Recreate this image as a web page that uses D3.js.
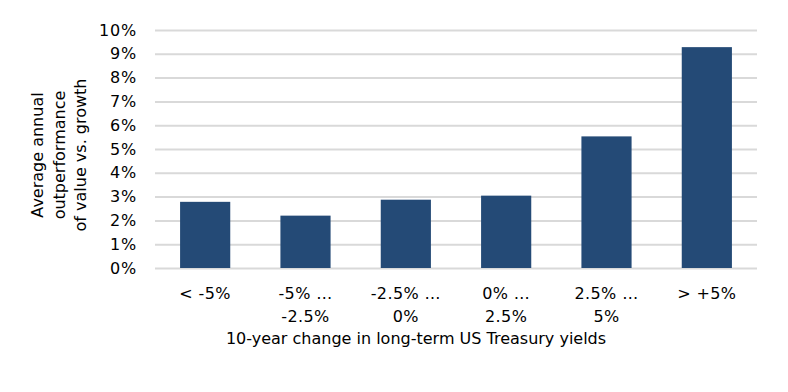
<!DOCTYPE html>
<html><head><meta charset="utf-8">
<script src="https://cdn.jsdelivr.net/npm/d3@7/dist/d3.min.js"></script>
<style>body{margin:0;background:#fff}svg{display:block}text{font-family:"DejaVu Sans",Verdana,sans-serif;fill:#000}</style>
</head><body>
<script>
const categories = [["< -5%"], ["-5% …", "-2.5%"], ["-2.5% …", "0%"], ["0% …", "2.5%"], ["2.5% …", "5%"], ["> +5%"]];
const values = [2.78, 2.2, 2.87, 3.04, 5.53, 9.28];
const yTicks = [0,1,2,3,4,5,6,7,8,9,10];
const xTitle = "10-year change in long-term US Treasury yields";
const yTitle = ["Average annual", "outperformance", "of value vs. growth"];

const W = 788, H = 392;
const m = {left:155, right:31, top:30, bottom:124};
const FS = 16;
const svg = d3.select("body").append("svg").attr("width", W).attr("height", H);
const x = d3.scaleBand().domain(d3.range(categories.length)).range([m.left, W - m.right]).paddingInner(0.5).paddingOuter(0.25);
const y = d3.scaleLinear().domain([0, 10]).range([H - m.bottom, m.top]);

const ga = svg.append("g").attr("transform", `translate(${m.left},0)`)
  .call(d3.axisLeft(y).tickValues(yTicks).tickFormat(d => d + "%").tickSize(-(W - m.left - m.right)).tickPadding(18));
ga.select(".domain").remove();
ga.selectAll(".tick line").attr("stroke", "#d9d9d9").attr("stroke-width", 2);
ga.selectAll(".tick text").attr("font-size", FS).attr("font-family", '"DejaVu Sans",Verdana,sans-serif')
  .attr("fill", "#000").attr("letter-spacing", 0.8);

svg.append("g").selectAll("rect").data(values).join("rect")
  .attr("x", (d, i) => x(i)).attr("width", x.bandwidth())
  .attr("y", d => y(d)).attr("height", d => y(0) - y(d))
  .attr("fill", "#244a76");

const gx = svg.append("g");
categories.forEach((lines, i) => {
  const t = gx.append("text").attr("text-anchor", "middle").attr("font-size", FS).attr("letter-spacing", 0.4)
    .attr("x", x(i) + x.bandwidth() / 2).attr("y", 299);
  lines.forEach((l, j) => t.append("tspan").attr("x", x(i) + x.bandwidth() / 2).attr("dy", j ? 23 : 0).text(l));
});
svg.append("text").attr("text-anchor", "middle").attr("font-size", FS)
  .attr("x", 416).attr("y", 344).text(xTitle);

const yt = svg.append("text").attr("text-anchor", "middle").attr("font-size", FS)
  .attr("transform", "translate(43,155) rotate(-90)");
yTitle.forEach((l, j) => yt.append("tspan").attr("x", 0).attr("dy", j ? 21.5 : 0).text(l));
</script>
</body></html>
